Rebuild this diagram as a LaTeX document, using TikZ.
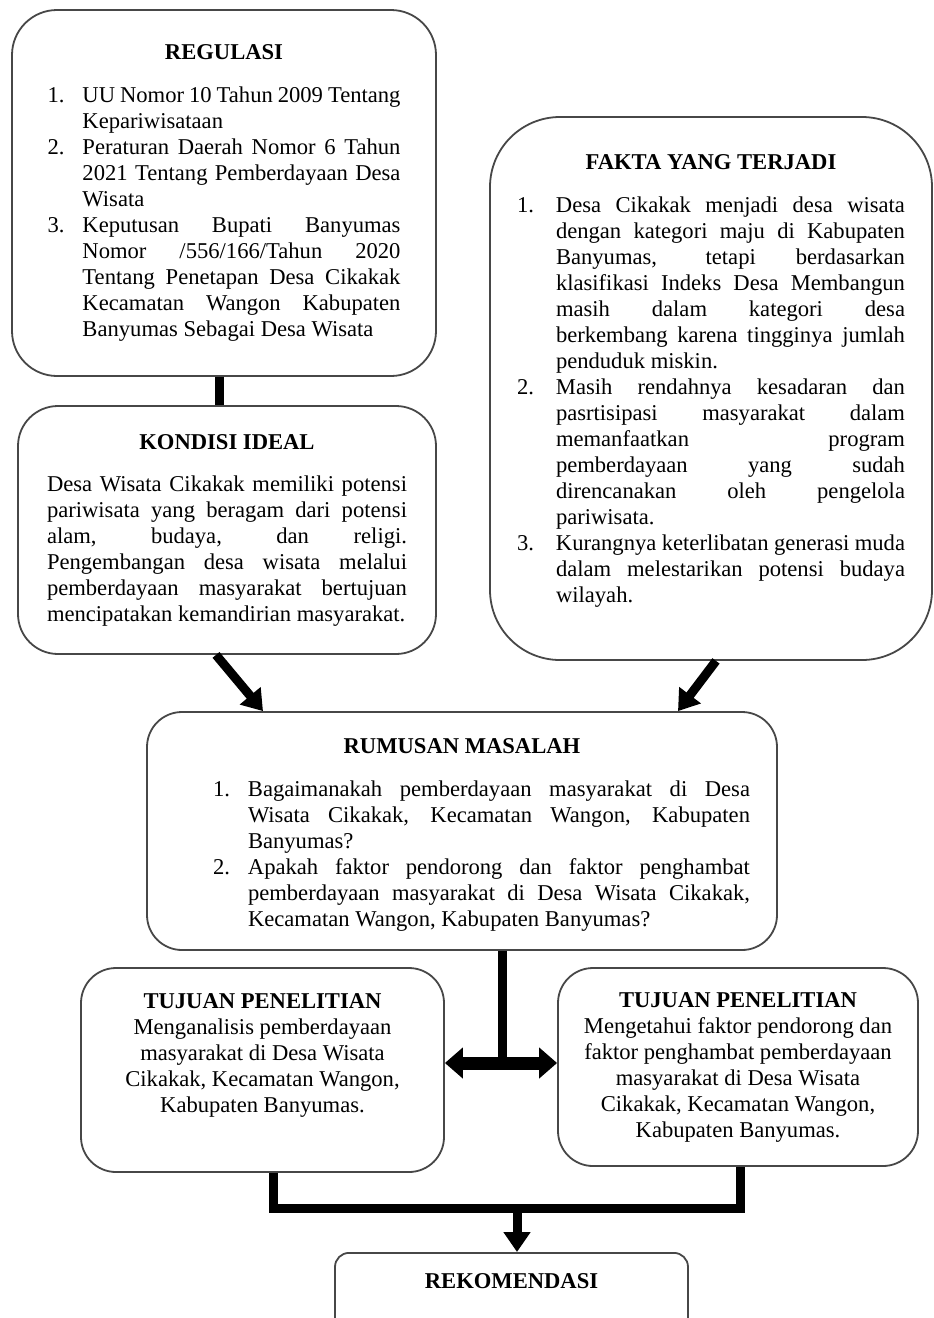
\documentclass[tikz,border=0pt]{standalone}
\usepackage{fontspec}
\setmainfont{Liberation Serif}
\usepackage{tikz}
\usetikzlibrary{arrows.meta, calc}
\definecolor{kotakgaris}{HTML}{474747}
\newcommand{\ukuranteks}{\fontsize{22.6pt}{26pt}\selectfont\parindent=0pt\hbadness=10000\tolerance=10000}
\newcommand{\butir}[2]{\par\noindent\hangindent=#1\hangafter=1\makebox[#1][l]{#2}}
\newcommand{\judul}[1]{{\centering\textbf{#1}\par}}

\begin{document}
\begin{tikzpicture}[x=1pt,y=-1pt,
    kotak/.style={draw=kotakgaris,line width=1.8pt,fill=white,inner sep=0pt,align=justify,font=\ukuranteks},
    garis/.style={line width=9pt,black},
    panah/.style={garis,-{Triangle[width=26pt,length=20pt]}},
    panahdua/.style={line width=13pt,black,{Triangle[width=30pt,length=18pt]}-{Triangle[width=30pt,length=18pt]}}]
        \useasboundingbox (0,0) rectangle (934,1318);
        \clip (0,0) rectangle (934,1318);
        \node[kotak,minimum width=424pt,minimum height=366pt,text width=353pt,rounded corners=45pt] (regulasi) at (224,193) {\judul{REGULASI}\vspace{17pt}
          \butir{35pt}{1.}UU Nomor 10 Tahun 2009 Tentang\linebreak Kepariwisataan
          \butir{35pt}{2.}Peraturan Daerah Nomor 6 Tahun\linebreak 2021 Tentang Pemberdayaan Desa\linebreak Wisata
          \butir{35pt}{3.}Keputusan Bupati Banyumas\linebreak Nomor /556/166/Tahun 2020\linebreak Tentang Penetapan Desa Cikakak\linebreak Kecamatan Wangon Kabupaten\linebreak Banyumas Sebagai Desa Wisata\par};
        \node[kotak,minimum width=442pt,minimum height=543pt,text width=388pt,rounded corners=70pt] (fakta) at (711,388.5) {\judul{FAKTA YANG TERJADI}\vspace{17pt}
          \butir{39pt}{1.}Desa Cikakak menjadi desa wisata\linebreak dengan kategori maju di Kabupaten\linebreak Banyumas, tetapi berdasarkan\linebreak klasifikasi Indeks Desa Membangun\linebreak masih dalam kategori desa\linebreak berkembang karena tingginya jumlah\linebreak penduduk miskin.
          \butir{39pt}{2.}Masih rendahnya kesadaran dan\linebreak pasrtisipasi masyarakat dalam\linebreak memanfaatkan program\linebreak pemberdayaan yang sudah\linebreak direncanakan oleh pengelola\linebreak pariwisata.
          \butir{39pt}{3.}Kurangnya keterlibatan generasi muda\linebreak dalam melestarikan potensi budaya\linebreak wilayah.\rule[-19pt]{0pt}{0pt}\par};
        \node[kotak,minimum width=418pt,minimum height=248pt,text width=360pt,rounded corners=40pt] (kondisi) at (227,530) {\judul{KONDISI IDEAL}\vspace{16pt}
          Desa Wisata Cikakak memiliki potensi\linebreak pariwisata yang beragam dari potensi\linebreak alam, budaya, dan religi.\linebreak Pengembangan desa wisata melalui\linebreak pemberdayaan masyarakat bertujuan\linebreak mencipatakan kemandirian masyarakat.\par};
        \node[kotak,minimum width=630pt,minimum height=238pt,text width=576pt,rounded corners=35pt] (rumusan) at (462,831) {\judul{\rule{0pt}{23pt}RUMUSAN MASALAH}\vspace{17pt}\leftskip=39pt
          \butir{35pt}{1.}Bagaimanakah pemberdayaan masyarakat di Desa\linebreak Wisata Cikakak, Kecamatan Wangon, Kabupaten\linebreak Banyumas?
          \butir{35pt}{2.}Apakah faktor pendorong dan faktor penghambat\linebreak pemberdayaan masyarakat di Desa Wisata Cikakak,\linebreak Kecamatan Wangon, Kabupaten Banyumas?\par};
        \node[kotak,minimum width=363pt,minimum height=204pt,text width=340pt,rounded corners=35pt] (tujuanKiri) at (262.5,1070) {{\centering\textbf{TUJUAN PENELITIAN}\\ Menganalisis pemberdayaan\\ masyarakat di Desa Wisata\\ Cikakak, Kecamatan Wangon,\\ Kabupaten Banyumas.\rule[-33pt]{0pt}{0pt}\par}};
        \node[kotak,minimum width=360pt,minimum height=198pt,text width=345pt,rounded corners=35pt] (tujuanKanan) at (738,1067) {{\centering\textbf{TUJUAN PENELITIAN}\\ Mengetahui faktor pendorong dan\\ faktor penghambat pemberdayaan\\ masyarakat di Desa Wisata\\ Cikakak, Kecamatan Wangon,\\ Kabupaten Banyumas.\par}};
        \node[kotak,align=center,anchor=north,minimum width=353pt,inner ysep=21pt,text depth=40pt,rounded corners=14pt] (rekomendasi) at (511.5,1252) {\textbf{REKOMENDASI}};
        \coordinate (cabang) at (502,1063);
        \coordinate (gabung) at (517,1208);
        % penghubung
        \draw[garis] ([xshift=-5pt]regulasi.south) -- ([xshift=-5pt]regulasi.south |- kondisi.north);
        \draw[panah] ([xshift=-11pt]kondisi.south) -- ([xshift=-199pt]rumusan.north);
        \draw[panah] ([xshift=5pt]fakta.south) -- ([xshift=216pt]rumusan.north);
        \draw[garis] (rumusan.south -| cabang) -- (cabang);
        \draw[panahdua] (tujuanKiri.east |- cabang) -- (tujuanKanan.west |- cabang);
        \draw[garis,line join=miter] ([xshift=10.5pt]tujuanKiri.south) |- (gabung) -| ([xshift=2pt]tujuanKanan.south);
        \draw[panah] (gabung) -- (rekomendasi.north -| gabung);
      \end{tikzpicture}
\end{document}
